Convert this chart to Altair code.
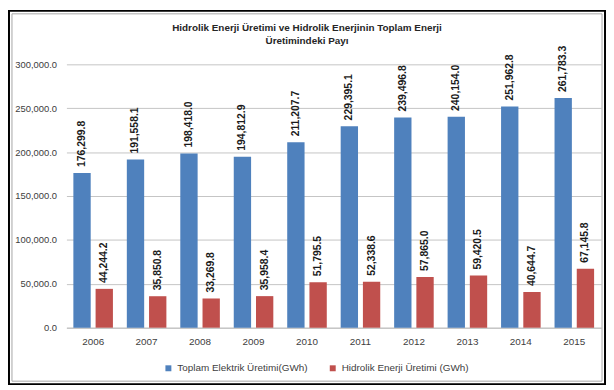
import altair as alt
import pandas as pd

years = ["2006", "2007", "2008", "2009", "2010", "2011", "2012", "2013", "2014", "2015"]
toplam = [176299.8, 191558.1, 198418.0, 194812.9, 211207.7, 229395.1, 239496.8, 240154.0, 251962.8, 261783.3]
hidrolik = [44244.2, 35850.8, 33269.8, 35958.4, 51795.5, 52338.6, 57865.0, 59420.5, 40644.7, 67145.8]
series_names = ["Toplam Elektrik Üretimi(GWh)", "Hidrolik Enerji Üretimi (GWh)"]
series_colors = ["#4F81BD", "#C0504D"]
y_ticks = [0, 50000, 100000, 150000, 200000, 250000, 300000]
title_lines = ["Hidrolik Enerji Üretimi ve Hidrolik Enerjinin Toplam Enerji", "Üretimindeki Payı"]

rows = []
for i, yr in enumerate(years):
    rows.append({"year": yr, "series": series_names[0], "value": toplam[i]})
    rows.append({"year": yr, "series": series_names[1], "value": hidrolik[i]})
df = pd.DataFrame(rows)

FONT = "Liberation Sans"
W, H = 540, 266

x_enc = alt.X("year:N", sort=years,
              scale=alt.Scale(paddingInner=0.26, paddingOuter=0.13),
              axis=alt.Axis(title=None, labelAngle=0, ticks=False, domain=True,
                            domainColor="#bfbfbf", labelColor="#404040",
                            labelFontSize=10, labelFont=FONT, labelPadding=9, grid=False))
xo_enc = alt.XOffset("series:N", sort=series_names,
                     scale=alt.Scale(paddingInner=0.22, paddingOuter=0))
y_enc = alt.Y("value:Q", scale=alt.Scale(domain=[0, 300000], nice=False),
              axis=alt.Axis(title=None, values=y_ticks, format=",.1f", ticks=False,
                            domain=False, gridColor="#c4c4c4", labelColor="#404040",
                            labelFontSize=9.5, labelFont=FONT, labelPadding=10))

bars = alt.Chart(df).mark_bar().encode(
    x=x_enc, xOffset=xo_enc, y=y_enc,
    color=alt.Color("series:N", sort=series_names,
                    scale=alt.Scale(domain=series_names, range=series_colors),
                    legend=alt.Legend(title=None, orient="none", legendX=98, legendY=302,
                                      direction="horizontal", symbolType="square",
                                      symbolSize=36, labelFontSize=10, labelFont=FONT,
                                      labelColor="#404040", columnPadding=20,
                                      labelOffset=4, padding=0)),
)

labels = alt.Chart(df).mark_text(angle=270, align="left", baseline="middle", dx=6,
                                 fontSize=10.5, fontWeight="bold", font=FONT,
                                 color="#1a1a1a").encode(
    x=alt.X("year:N", sort=years), xOffset=alt.XOffset("series:N", sort=series_names),
    y="value:Q", text=alt.Text("value:Q", format=",.1f"),
)

t1 = alt.Chart(pd.DataFrame({"t": [title_lines[0]]})).mark_text(
    fontSize=10, fontWeight="bold", font=FONT, color="#262626", baseline="middle").encode(
    x=alt.value(243), y=alt.value(-37), text="t:N")
t2 = alt.Chart(pd.DataFrame({"t": [title_lines[1]]})).mark_text(
    fontSize=10, fontWeight="bold", font=FONT, color="#262626", baseline="middle").encode(
    x=alt.value(243), y=alt.value(-24), text="t:N")

frame_df = pd.DataFrame({"k": [1]})
frame = alt.Chart(frame_df).mark_rect(fill="transparent", stroke="#000000", strokeWidth=2).encode(
    x=alt.value(-58), x2=alt.value(544), y=alt.value(-54), y2=alt.value(323))
inner = alt.Chart(frame_df).mark_rect(fill="transparent", stroke="#a6a6a6", strokeWidth=1).encode(
    x=alt.value(-55), x2=alt.value(541), y=alt.value(-51), y2=alt.value(320))

chart = alt.layer(bars, labels, t1, t2, inner, frame).properties(
    width=W, height=H, padding=0, background="white"
).configure_view(stroke=None)

chart.save("out.html", embed_options={"renderer": "svg", "actions": False})
